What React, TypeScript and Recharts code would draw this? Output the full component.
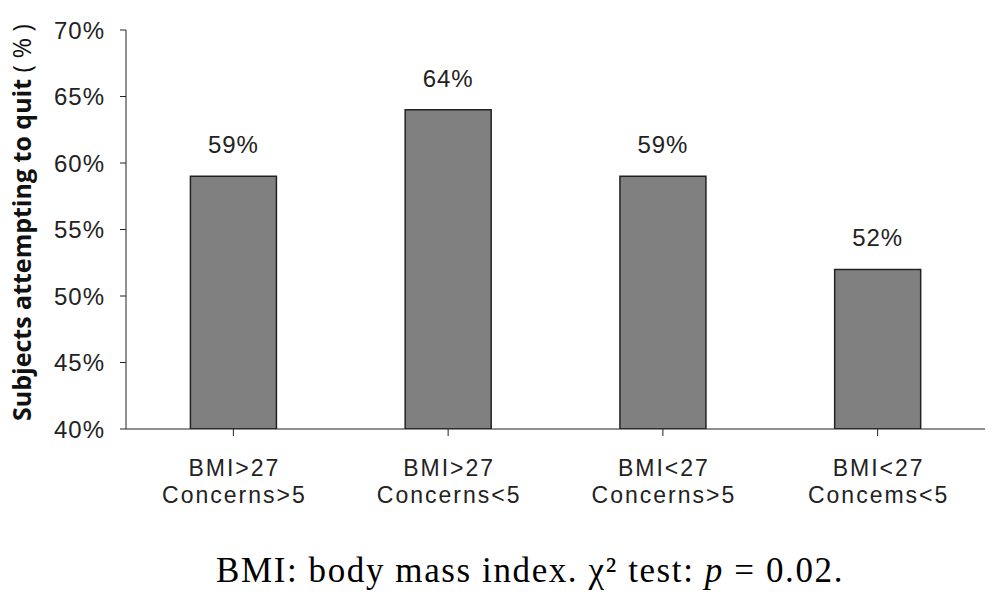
import { BarChart, Bar, XAxis, YAxis, LabelList } from "recharts"

const groups = ["BMI>27|Concerns>5", "BMI>27|Concerns<5", "BMI<27|Concerns>5", "BMI<27|Concems<5"]
const quitRates = [59, 64, 59, 52]
const yTicks = [40, 45, 50, 55, 60, 65, 70]

const data = groups.map((g, i) => ({ name: g, value: quitRates[i] }))

const font = "'Liberation Sans', Arial, sans-serif"

const CategoryTick = (props: any) => {
  const { x, y, payload } = props
  const [first, second] = String(payload.value).split("|")
  return (
    <g fontFamily={font} fontSize={23} fill="#222" letterSpacing={2}>
      <text x={x + 1} y={y + 38} textAnchor="middle">
        {first}
      </text>
      <text x={x + 1} y={y + 65} textAnchor="middle">
        {second}
      </text>
    </g>
  )
}

const AxisTitle = (props: any) => {
  const { viewBox } = props
  const cx = 21
  const cy = viewBox.y + viewBox.height / 2 - 7
  return (
    <text
      x={cx}
      y={cy}
      transform={`rotate(-90, ${cx}, ${cy})`}
      textAnchor="middle"
      dominantBaseline="central"
      fontFamily="'Open Sans', sans-serif"
      fontSize={25}
      fill="#111"
    >
      <tspan fontWeight="bold">Subjects attempting to quit </tspan>
      <tspan>( % )</tspan>
    </text>
  )
}

export default function App() {
  return (
    <div style={{ position: "absolute", left: 0, top: 0, width: 1000, height: 598, background: "#fff" }}>
      <BarChart
        width={1000}
        height={598}
        data={data}
        margin={{ top: 30, right: 15, left: 0, bottom: 0 }}
        barCategoryGap="30%"
      >
        <XAxis
          dataKey="name"
          height={169}
          stroke="#222"
          tickLine={{ stroke: "#222" }}
          tickSize={7}
          tick={<CategoryTick />}
          interval={0}
        />
        <YAxis
          width={126}
          domain={[40, 70]}
          ticks={yTicks}
          allowDataOverflow
          stroke="#222"
          tickSize={6}
          tickMargin={15}
          tickFormatter={(v: number) => `${v}%`}
          tick={{ fontFamily: font, fontSize: 24, fill: "#222", letterSpacing: 1 }}
          label={<AxisTitle />}
        />
        <Bar dataKey="value" fill="#808080" stroke="#222" strokeWidth={1.5} isAnimationActive={false}>
          <LabelList
            dataKey="value"
            position="top"
            offset={23}
            formatter={(v: any) => `${v}%`}
            style={{ fontFamily: font, fontSize: 24, fill: "#222", letterSpacing: 1 }}
          />
        </Bar>
      </BarChart>
      <div
        style={{
          position: "absolute",
          left: 0,
          width: 1060,
          top: 551,
          lineHeight: "40px",
          textAlign: "center",
          fontFamily: "'Liberation Serif', 'Times New Roman', serif",
          fontSize: 35,
          letterSpacing: 1.6,
          color: "#000",
          whiteSpace: "nowrap",
        }}
      >
        BMI: body mass index. χ² test: <i>p</i> = 0.02.
      </div>
    </div>
  )
}
